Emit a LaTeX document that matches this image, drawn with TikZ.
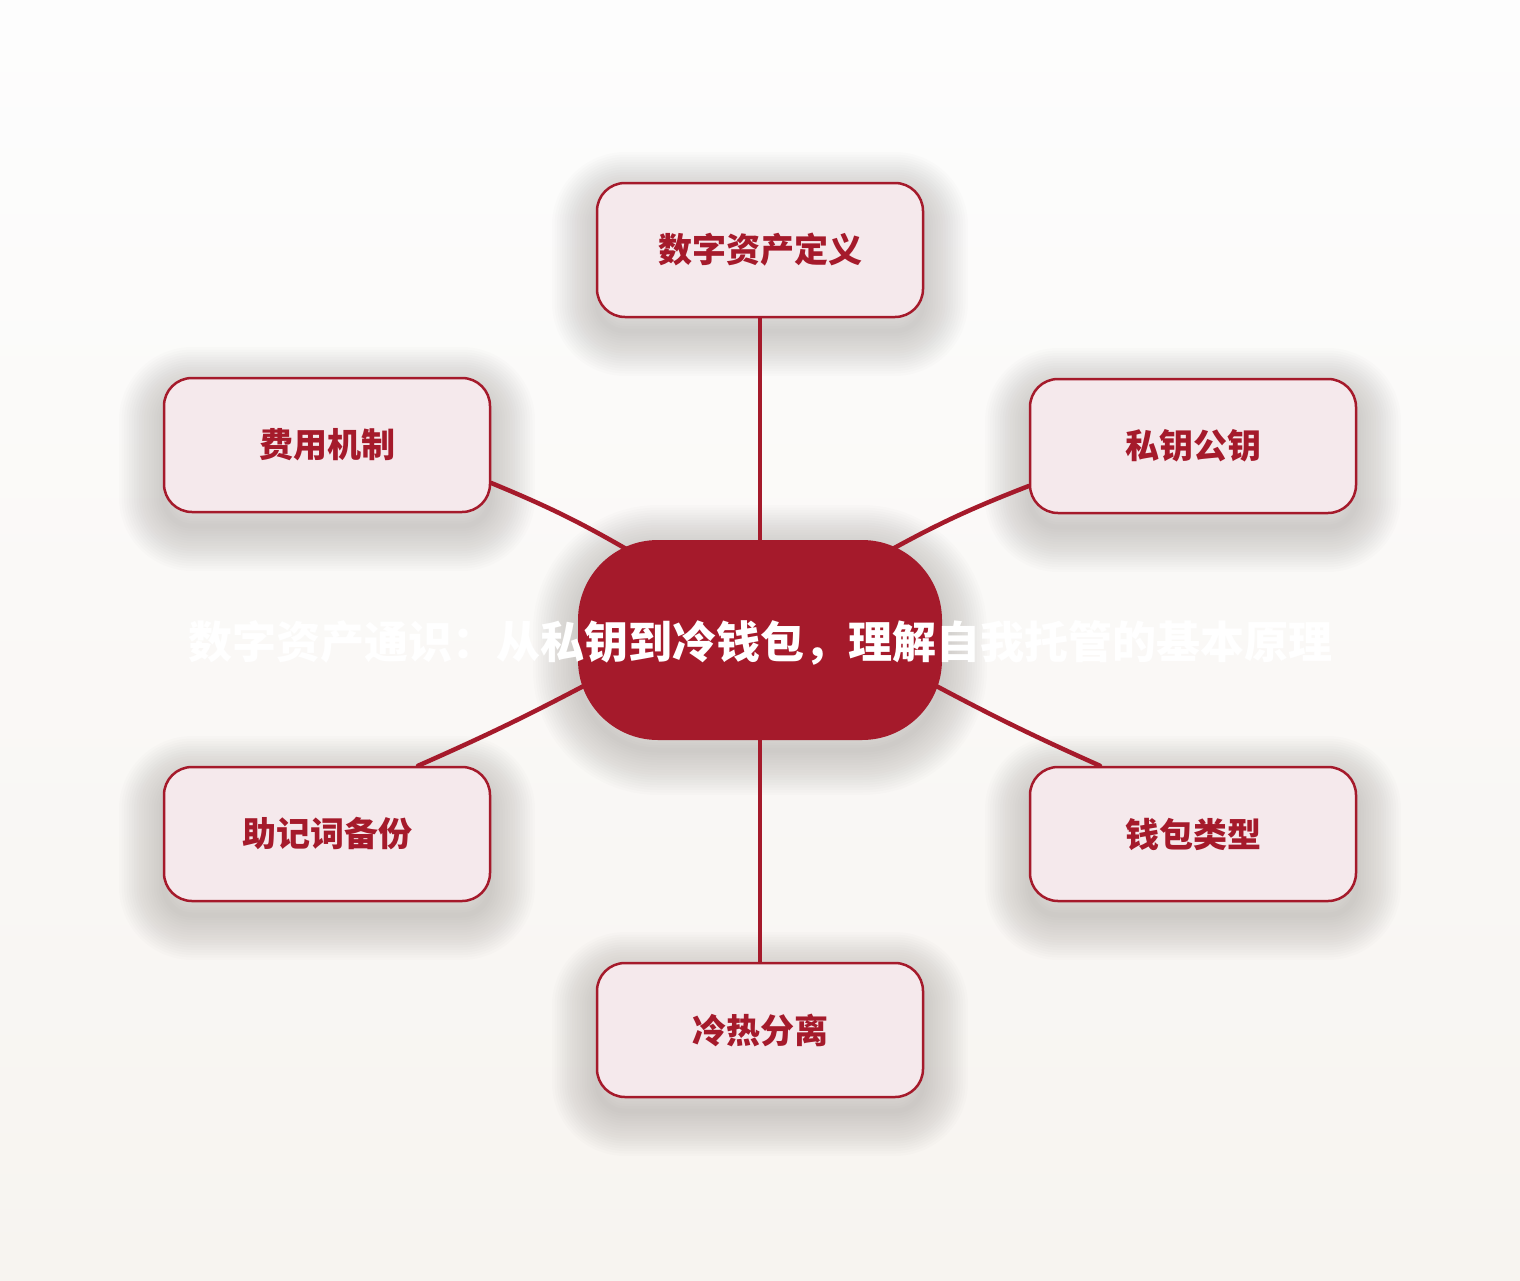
\documentclass[tikz,border=0pt]{standalone}
\usepackage{fontspec}
\newfontfamily\cjk{Noto Sans CJK SC}
\definecolor{mred}{HTML}{A51A2B}
\definecolor{cfill}{HTML}{F5E9EC}
\definecolor{bgtop}{HTML}{FDFDFD}
\definecolor{bgbot}{HTML}{F7F4F0}
\definecolor{shcol}{HTML}{3A3530}
\begin{document}
\begin{tikzpicture}[x=1pt,y=-1pt,
  shring/.style 2 args={preaction={draw=shcol, draw opacity=0.0115, line width=#1, line join=round, transform canvas={yshift=#2}}},
  ringset/.style={shring={5pt}{#1}, shring={10pt}{#1}, shring={15pt}{#1}, shring={20pt}{#1},
    shring={25pt}{#1}, shring={30pt}{#1}, shring={35pt}{#1}, shring={40pt}{#1},
    shring={45pt}{#1}, shring={50pt}{#1}, shring={55pt}{#1}, shring={60pt}{#1},
    shring={65pt}{#1}, shring={70pt}{#1}, shring={75pt}{#1}, shring={80pt}{#1},
    shring={85pt}{#1}, shring={90pt}{#1}},
  leaf/.style={ringset=-14pt, draw=mred, line width=2.5pt, fill=cfill, rounded corners=28pt,
    minimum width=326pt, minimum height=134pt, inner sep=0pt, text=mred,
    font=\cjk\bfseries\fontsize{34}{40}\selectfont},
  hub/.style={ringset=-10pt, fill=mred, rounded corners=80pt, minimum width=364pt, minimum height=200pt,
    inner sep=0pt},
  hubtext/.style={text=white, font=\cjk\bfseries\fontsize{44}{52}\selectfont, inner sep=0pt},
  link/.style={draw=mred, line width=4.5pt, line cap=round}]
\shade[top color=bgtop, bottom color=bgbot] (0,0) rectangle (1520,1280);
\useasboundingbox (0,0) rectangle (1520,1280);

\node[hub, label={[hubtext, yshift=-3pt]center:数字资产通识：从私钥到冷钱包，理解自我托管的基本原理}] (c) at (760,640) {};

\node[leaf] (t)  at (760,250)  {数字资产定义};
\node[leaf] (ul) at (327,445)  {费用机制};
\node[leaf] (ur) at (1193,446) {私钥公钥};
\node[leaf] (ll) at (327,834)  {助记词备份};
\node[leaf] (lr) at (1193,834) {钱包类型};
\node[leaf] (b)  at (760,1030) {冷热分离};

\draw[link] (t.south) -- ([shift={(0,12)}]c.north);
\draw[link] (b.north) -- ([shift={(0,-12)}]c.south);
\draw[link] ([shift={(0,38)}]ul.east) to[bend left=4] ([shift={(-120,-83)}]c.center);
\draw[link] ([shift={(0,40)}]ur.west) to[bend right=4] ([shift={(118,-83)}]c.center);
\draw[link] ([shift={(91,0)}]ll.north) to[bend right=2] ([shift={(-165,40)}]c.center);
\draw[link] ([shift={(-93,0)}]lr.north) to[bend left=2] ([shift={(165,40)}]c.center);
\end{tikzpicture}
\end{document}
